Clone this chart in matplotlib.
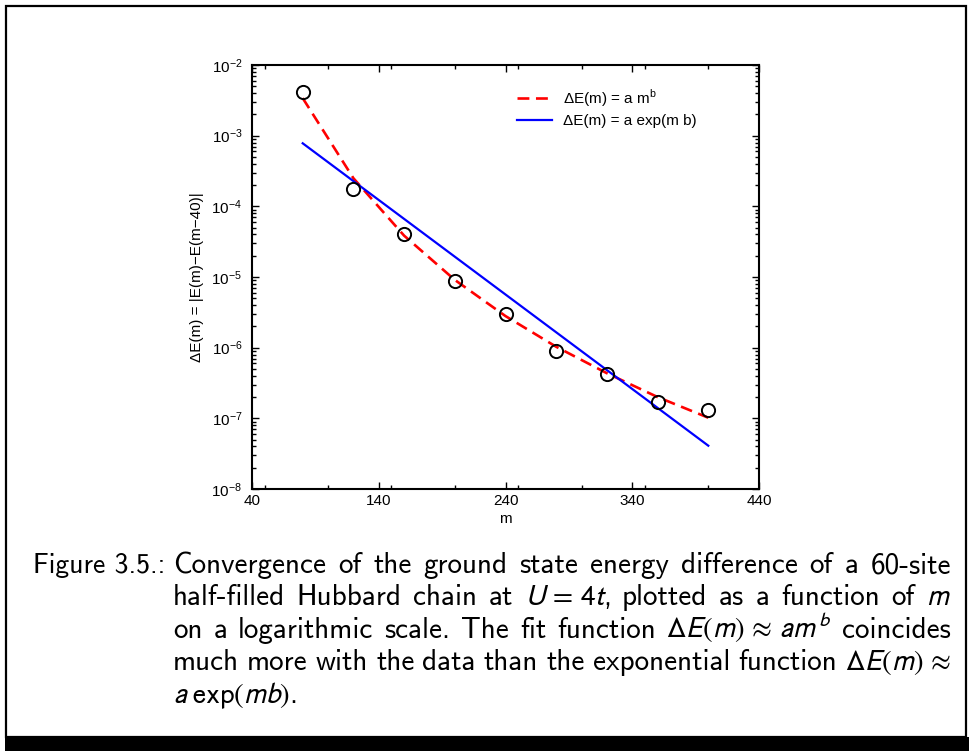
import matplotlib
matplotlib.use("Agg")
import matplotlib.pyplot as plt
from matplotlib.patches import Rectangle
from matplotlib.transforms import IdentityTransform
from matplotlib.ticker import LogLocator, MultipleLocator, FuncFormatter, NullFormatter
import numpy as np

# values
m_values = [80, 120, 160, 200, 240, 280, 320, 360, 400]
delta_e = [4.2e-3, 1.76e-4, 4.1e-5, 8.8e-6, 3.0e-6, 9.0e-7, 4.3e-7, 1.7e-7, 1.3e-7]
# power law fit a*m^b at the same m values
fit_power = [3.4e-3, 2.5e-4, 3.85e-5, 9.1e-6, 2.8e-6, 1.03e-6, 4.35e-7, 2.0e-7, 1.02e-7]
# exponential fit a*exp(m*b), a straight line on the log axis
fit_exp_m = [80, 400]
fit_exp = [7.8e-4, 4.1e-8]

x_ticks = [40, 140, 240, 340, 440]
legend_labels = [r"ΔE(m) = a m$^{\mathregular{b}}$", "ΔE(m) = a exp(m b)"]

# caption words, math kept free of spaces so a plain split works
caption_head = "Figure 3.5.:"
caption_lines = [
    r"Convergence of the ground state energy difference of a 60-site",
    r"half-filled Hubbard chain at $U\,=\,4t$, plotted as a function of $m$",
    r"on a logarithmic scale. The fit function $\Delta{}E(m)\,\approx\,am^b$ coincides",
    r"much more with the data than the exponential function $\Delta{}E(m)\,\approx$",
    r"$a\;\exp(mb)$.",
]

plt.rcParams['font.family'] = ['Liberation Sans', 'DejaVu Sans']

W, H = 969, 751
fig = plt.figure(figsize=(W / 100, H / 100), dpi=100)
ax = fig.add_axes([252 / W, 1 - 489 / H, (759 - 252) / W, (489 - 65) / H])

ax.plot(m_values, fit_power, color='red', lw=1.9, dashes=(4.5, 2.5), label=legend_labels[0], zorder=2)
ax.plot(fit_exp_m, fit_exp, color='blue', lw=1.6, label=legend_labels[1], zorder=2)
ax.plot(m_values, delta_e, 'o', ms=9.5, mfc='none', mec='black', mew=1.4, zorder=3)

ax.set_yscale('log')
ax.set_xlim(40, 440)
ax.set_ylim(1e-8, 1e-2)
ax.set_xticks(x_ticks)
ax.xaxis.set_minor_locator(MultipleLocator(50))
ax.yaxis.set_major_locator(LogLocator(base=10, numticks=10))
ax.yaxis.set_minor_locator(LogLocator(base=10, subs=np.arange(2, 10), numticks=20))
ax.yaxis.set_minor_formatter(NullFormatter())
ax.yaxis.set_major_formatter(FuncFormatter(lambda v, p: r"$\mathregular{10^{%d}}$" % round(np.log10(v))))

for s in ax.spines.values():
    s.set_linewidth(1.5)
ax.tick_params(which='both', direction='in', top=True, right=True, labelsize=11, width=1.0)
ax.tick_params(which='major', length=5)
ax.tick_params(which='minor', length=3)
ax.tick_params(axis='y', which='major', pad=7)

ax.set_xlabel("m", fontsize=11, labelpad=3)
ax.set_ylabel("ΔE(m) = |E(m)−E(m−40)|", fontsize=11)
ax.yaxis.set_label_coords(-0.095, 0.5)

ax.legend(loc='upper left', bbox_to_anchor=((517 - 252) / 507, 1 - (87 - 65) / 424),
          frameon=False, fontsize=11, handlelength=2.3, handletextpad=0.7,
          borderpad=0, borderaxespad=0, labelspacing=0.35)

# frame round the figure and the dark band at the bottom
fig.add_artist(Rectangle((6, H - 737), 960, 731, fill=False, lw=1.6, ec='black',
                         transform=IdentityTransform()))
fig.add_artist(Rectangle((5, 0), W - 5, H - 737, fc='black', ec='none',
                         transform=IdentityTransform()))

# caption, justified like the LaTeX original
fig.canvas.draw()
renderer = fig.canvas.get_renderer()
cap_kw = dict(family='cmss10', math_fontfamily='stixsans',
              va='baseline', ha='left', transform=IdentityTransform())


def place_line(tokens, x0, x1, y, justify, size=21):
    texts = [fig.text(0, 0, t, fontsize=size, **cap_kw) for t in tokens]
    widths = [t.get_window_extent(renderer).width for t in texts]
    if justify and len(texts) > 1:
        gap = (x1 - x0 - sum(widths)) / (len(texts) - 1)
    else:
        gap = 7
    x = x0
    for t, w in zip(texts, widths):
        t.set_position((x, H - y))
        x += w + gap


baselines = [573, 605, 638, 670, 703]
place_line([caption_head], 33, 165, baselines[0], False, size=20)
for i, line in enumerate(caption_lines):
    place_line(line.split(), 173, 951, baselines[i], i < len(caption_lines) - 1)

fig.savefig("out.png", dpi=100)
